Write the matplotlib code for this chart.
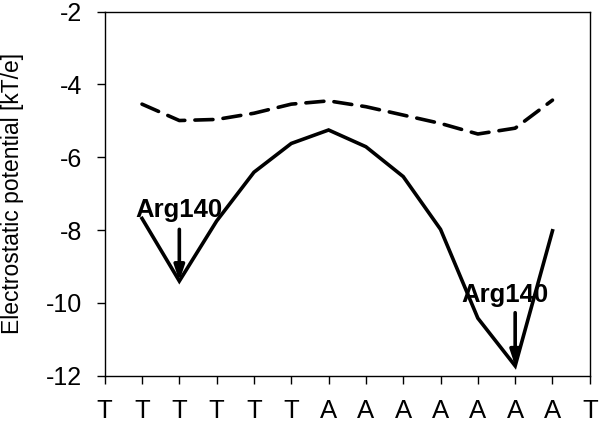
import matplotlib
matplotlib.use("Agg")
import matplotlib.pyplot as plt

plt.rcParams['font.family'] = ['Liberation Sans', 'DejaVu Sans']

bases = ["T", "T", "T", "T", "T", "T", "A", "A", "A", "A", "A", "A", "A", "T"]
pos = list(range(1, 13))
solid = [-7.68, -9.40, -7.75, -6.41, -5.62, -5.25, -5.71, -6.53, -7.98, -10.42, -11.73, -8.02]
dashed = [-4.54, -4.99, -4.96, -4.79, -4.54, -4.45, -4.61, -4.84, -5.07, -5.36, -5.20, -4.43]

# label text position, arrow start, arrow tip
arg_labels = [
  ((2.0, -7.45), (2, -7.98), (2, -9.40)),
  ((10.72, -9.78), (11, -10.27), (11, -11.73)),
]

fig = plt.figure(figsize=(6, 4.25), dpi=100)
ax = fig.add_axes([0.1745, 0.116, 0.8085, 0.8565])

ax.plot(pos, dashed, color="black", lw=2.6, linestyle=(0, (5.0, 2.8)),
        dash_capstyle="round")
ax.plot(pos, solid, color="black", lw=2.6, solid_joinstyle="miter")

for txt, start, tip in arg_labels:
  ax.text(txt[0], txt[1], "Arg140", ha="center", va="center", fontsize=18.5, fontweight="bold")
  ax.annotate("", xy=tip, xytext=start,
              arrowprops=dict(arrowstyle="-|>,head_length=0.9,head_width=0.3", color="black", lw=2.6,
                              shrinkA=0, shrinkB=0))

ax.set_xlim(0, 13)
ax.set_ylim(-12, -2)
ax.set_xticks(range(len(bases)))
ax.set_xticklabels(bases, fontsize=18.5)
ax.set_yticks([-12, -10, -8, -6, -4, -2])
ax.set_yticklabels(["-12", "-10", "-8", "-6", "-4", "-2"], fontsize=18)
ax.tick_params(direction="out", length=6, width=1)
ax.tick_params(axis="y", pad=10)
ax.tick_params(axis="x", pad=11)
ax.set_ylabel("Electrostatic potential [kT/e]", fontsize=16.5)
ax.yaxis.set_label_coords(-0.166, 0.5)
for s in ax.spines.values():
  s.set_linewidth(1)

plt.savefig("out.png")
